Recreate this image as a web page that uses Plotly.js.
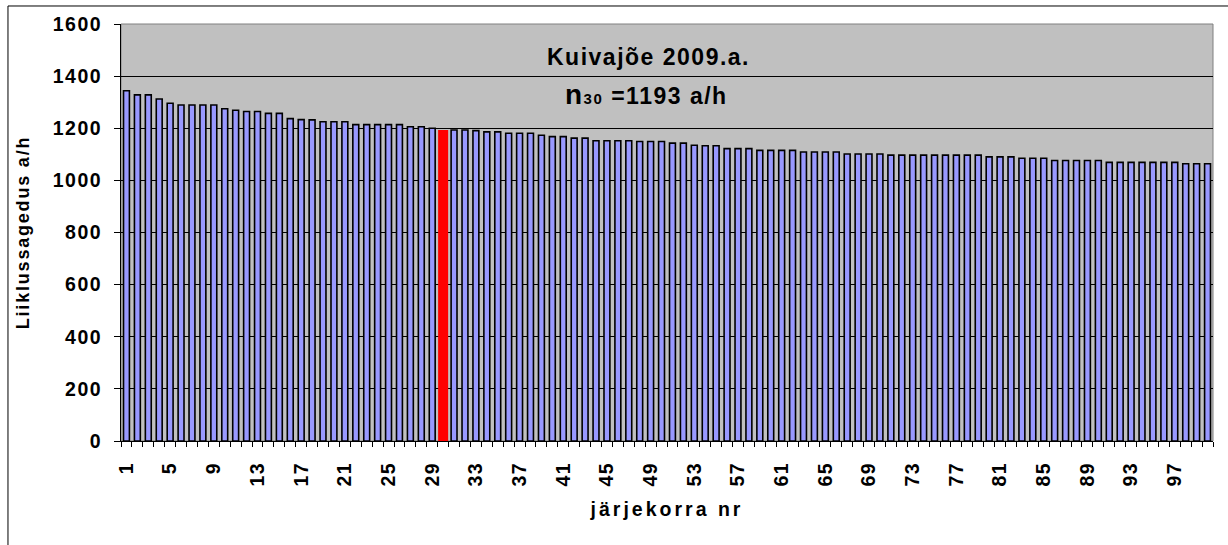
<!DOCTYPE html>
<html><head><meta charset="utf-8">
<script src="https://cdn.plot.ly/plotly-3.0.1.min.js"></script>
<style>
html,body{margin:0;padding:0;background:#fff;}
#chart{width:1228px;height:545px;}
svg text{letter-spacing:1.5px;}
svg text.xtitle{letter-spacing:3px;}
svg text.ytitle{letter-spacing:1.8px;}
</style>
</head><body><div id="chart"></div>
<script>
// Data
const ranks = [1,2,3,4,5,6,7,8,9,10,11,12,13,14,15,16,17,18,19,20,
  21,22,23,24,25,26,27,28,29,30,31,32,33,34,35,36,37,38,39,40,
  41,42,43,44,45,46,47,48,49,50,51,52,53,54,55,56,57,58,59,60,
  61,62,63,64,65,66,67,68,69,70,71,72,73,74,75,76,77,78,79,80,
  81,82,83,84,85,86,87,88,89,90,91,92,93,94,95,96,97,98,99,100];
const flows = [1344,1328,1328,1312,1296,1289,1289,1289,1289,1275,
  1269,1264,1264,1257,1257,1237,1233,1232,1225,1225,
  1225,1214,1214,1214,1214,1214,1206,1206,1200,1193,
  1193,1193,1191,1186,1186,1181,1181,1181,1173,1168,
  1168,1162,1162,1152,1152,1152,1152,1149,1149,1149,
  1143,1143,1135,1133,1133,1122,1122,1122,1115,1115,
  1115,1115,1109,1109,1109,1109,1101,1101,1101,1101,
  1097,1097,1097,1097,1097,1097,1097,1097,1097,1090,
  1090,1090,1085,1085,1085,1076,1076,1076,1076,1076,
  1069,1069,1069,1069,1069,1069,1069,1064,1064,1064];
const xTickLabels = [1,5,9,13,17,21,25,29,33,37,41,45,49,53,57,61,65,69,73,77,81,85,89,93,97];
const highlightRank = 30;
const chartTitle = 'Kuivajõe 2009.a.';
const n30Value = 1193;

const FONT = 'Liberation Sans, Arial, sans-serif';
const colors = ranks.map(r => r === highlightRank ? '#FF0000' : '#9999FF');
const widths = ranks.map(r => r === highlightRank ? 0.92 : 0.54);
const lineW = ranks.map(r => r === highlightRank ? 0 : 1.6);
const boundaries = ranks.map(r => r - 0.5).concat([ranks[ranks.length-1] + 0.5]);

const trace = {
  type: 'bar', x: ranks, y: flows, width: widths,
  marker: {color: colors, line: {color: '#000000', width: lineW}},
  hoverinfo: 'x+y'
};

const layout = {
  width: 1228, height: 545,
  margin: {l: 121, r: 15, t: 24, b: 104, pad: 0},
  paper_bgcolor: '#FFFFFF', plot_bgcolor: '#C0C0C0',
  showlegend: false,
  font: {family: FONT, color: '#000000'},
  xaxis: {
    type: 'linear', range: [0.5, 100.5], fixedrange: true,
    tickmode: 'array', tickvals: xTickLabels, ticktext: xTickLabels.map(String),
    ticks: '', tickangle: -90, ticklabelstandoff: 12,
    tickfont: {family: FONT, size: 19.5, weight: 'bold', color: '#000'},
    showgrid: false, zeroline: false,
    showline: true, linecolor: '#000000', linewidth: 1,
    minor: {tickmode: 'array', tickvals: boundaries, ticks: 'outside', ticklen: 5, tickwidth: 1, tickcolor: '#000', showgrid: false},
    title: {text: 'järjekorra nr', font: {family: FONT, size: 19.5, weight: 'bold', color: '#000'}, standoff: 16}
  },
  yaxis: {
    range: [0, 1600], dtick: 200, tick0: 0, tickformat: 'd', fixedrange: true,
    ticks: 'outside', ticklen: 6, tickwidth: 1, tickcolor: '#000', ticklabelstandoff: 8,
    tickfont: {family: FONT, size: 19.5, weight: 'bold', color: '#000'},
    showgrid: true, gridcolor: '#000000', gridwidth: 1, zeroline: false,
    showline: true, linecolor: '#000000', linewidth: 1,
    title: {text: 'Liiklussagedus a/h', font: {family: FONT, size: 18, weight: 'bold', color: '#000'}, standoff: 18}
  },
  shapes: [
    {type: 'rect', xref: 'paper', yref: 'paper', x0: 0, x1: 1, y0: 0, y1: 1,
     line: {color: '#808080', width: 1}, layer: 'below'},
    {type: 'rect', xref: 'paper', yref: 'paper', x0: -0.1035, x1: 1.2, y0: -0.5, y1: 1.0432,
     line: {color: '#000000', width: 1}, layer: 'above'}
  ],
  annotations: [
    {xref: 'x', yref: 'y', x: 48.85, y: 1473, text: chartTitle, showarrow: false,
     xanchor: 'center', yanchor: 'middle',
     font: {family: FONT, size: 23, weight: 'bold', color: '#000'}},
    {xref: 'x', yref: 'y', x: 48.6, y: 1330,
     text: '<span style="font-size:28px">n</span><span style="font-size:15px">30</span> =' + n30Value + ' a/h', showarrow: false,
     xanchor: 'center', yanchor: 'middle',
     font: {family: FONT, size: 23, weight: 'bold', color: '#000'}}
  ],
  bargap: 0.4
};

Plotly.newPlot('chart', [trace], layout, {displayModeBar: false, staticPlot: true});
</script>
</body></html>
